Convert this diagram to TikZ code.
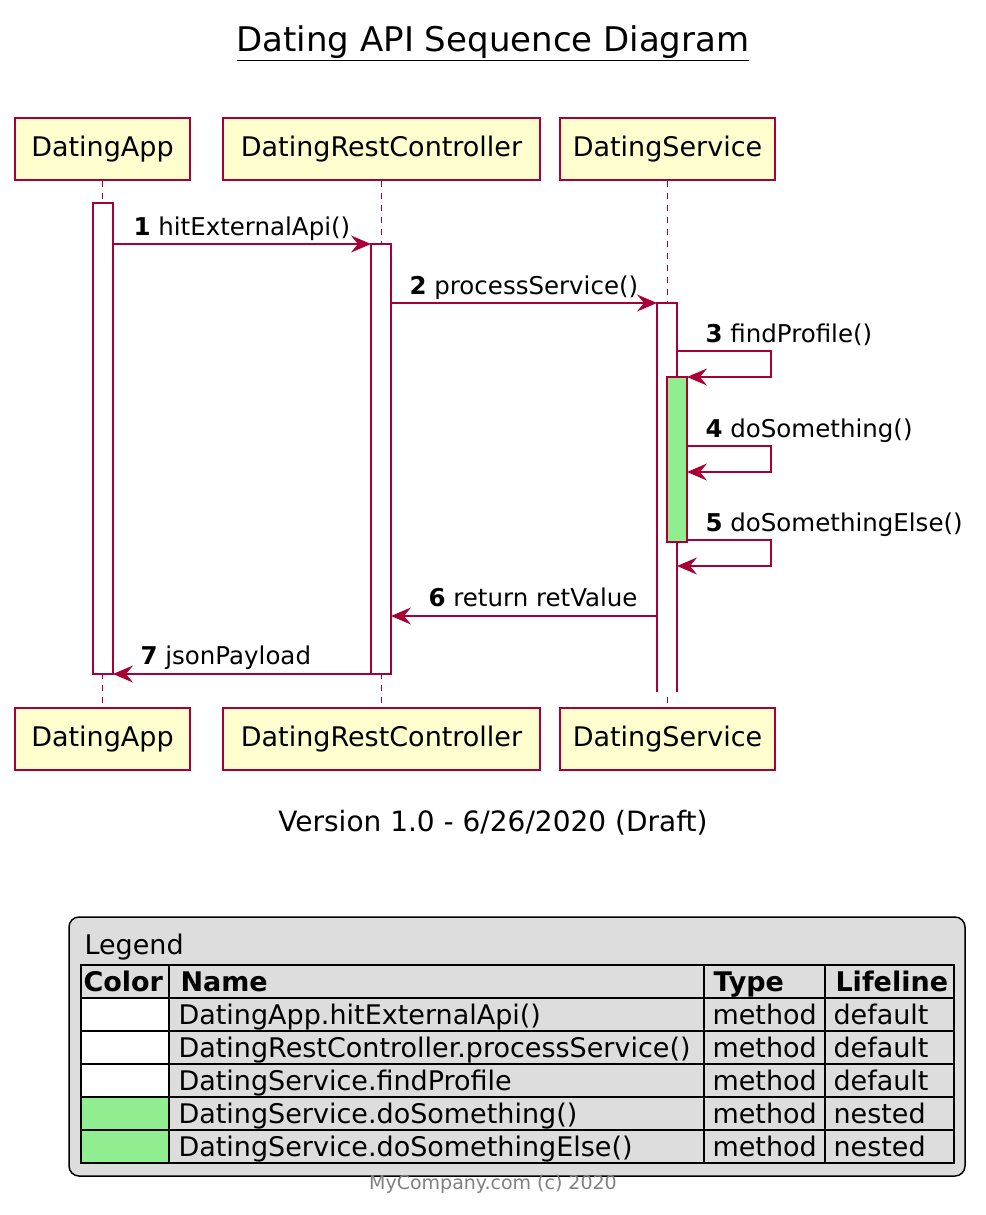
\documentclass[tikz,border=0pt]{standalone}
\usepackage{fontspec}
\setmainfont{DejaVu Sans}
\usetikzlibrary{arrows.meta}
\definecolor{bd}{HTML}{A80036}
\definecolor{pf}{HTML}{FEFECE}
\definecolor{lg}{HTML}{DDDDDD}
\definecolor{gr}{HTML}{90EE90}
\begin{document}
\begin{tikzpicture}[x=1pt,y=-1pt,
 part/.style={draw=bd,fill=pf,line width=1.5pt,minimum height=62pt,font=\fontsize{27}{30}\selectfont,inner xsep=0pt},
 life/.style={draw=bd,dash pattern=on 6pt off 6pt,line width=1.2pt},
 act/.style={draw=bd,fill=white,line width=1.2pt},
 msg/.style={draw=bd,line width=1.2pt,-{Stealth[length=20pt,width=17pt,inset=7pt]}},
 lbl/.style={font=\fontsize{24.5}{28}\selectfont,anchor=base west},
 cell/.style={font=\fontsize{27}{30}\selectfont,anchor=base west}]
\useasboundingbox (0,0) rectangle (985,1215);
\node[font=\fontsize{34}{40}\selectfont] (title) at (493,43) {\underline{Dating API Sequence Diagram}};
% participants
\foreach \n/\t/\a/\b in {A/DatingApp/15/190,R/DatingRestController/223/540,S/DatingService/560/775}{
 \node[part,minimum width={\b-\a}] (\n-top) at ({(\a+\b)/2},149) {\t};
 \node[part,minimum width={\b-\a}] (\n-bot) at ({(\a+\b)/2},739) {\t};
}
\draw[life] (A-top) -- (A-bot);
\draw[life] (R-top) -- (R-bot);
\draw[life] (S-top) -- (S-bot);
% activations
\draw[act] (93,203) rectangle (113,674);
\draw[act] (371,244) rectangle (391,674);
\fill[white] (657,303) rectangle (677,692);
\draw[bd,line width=1.2pt] (657,692) -- (657,303) -- (677,303) -- (677,692);
\draw[act,fill=gr] (667,377) rectangle (687,542);
% messages
\coordinate (m1a) at (113,244); \coordinate (m1b) at (371,244);
\draw[msg] (m1a) -- (m1b);
\node[lbl] (l1) at (130,235) {\textbf{1} hitExternalApi()};
\coordinate (m2a) at (391,303); \coordinate (m2b) at (657,303);
\draw[msg] (m2a) -- (m2b);
\node[lbl] (l2) at (406,294) {\textbf{2} processService()};
\coordinate (m3a) at (677,351); \coordinate (m3b) at (687,377);
\draw[msg] (m3a) -- (771,351) -- (771,377) -- (m3b);
\node[lbl] (l3) at (702,342) {\textbf{3} findProfile()};
\coordinate (m4a) at (687,446); \coordinate (m4b) at (687,472);
\draw[msg] (m4a) -- (771,446) -- (771,472) -- (m4b);
\node[lbl] (l4) at (702,437) {\textbf{4} doSomething()};
\coordinate (m5a) at (687,540); \coordinate (m5b) at (677,566);
\draw[msg] (m5a) -- (771,540) -- (771,566) -- (m5b);
\node[lbl] (l5) at (702,531) {\textbf{5} doSomethingElse()};
\coordinate (m6a) at (657,616); \coordinate (m6b) at (391,616);
\draw[msg] (m6a) -- (m6b);
\node[lbl] (l6) at (425,606) {\textbf{6} return retValue};
\coordinate (m7a) at (371,674); \coordinate (m7b) at (113,674);
\draw[msg] (m7a) -- (m7b);
\node[lbl] (l7) at (137,664) {\textbf{7} jsonPayload};
\node[font=\fontsize{28}{32}\selectfont] (ver) at (493,823) {Version 1.0 - 6/26/2020 (Draft)};
% legend
\draw[black,fill=lg,line width=1.5pt,rounded corners=10pt] (69,917) rectangle (965,1176);
\node[cell] (lgd) at (81,954) {Legend};
\fill[gr] (81,1097) rectangle (169,1163);
\fill[white] (81,998) rectangle (169,1097);
\draw[line width=1.5pt] (81,965) rectangle (954,1163);
\foreach \y in {998,1031,1064,1097,1130} \draw[line width=1.2pt] (81,\y) -- (954,\y);
\foreach \x in {169,704,825} \draw[line width=1.2pt] (\x,965) -- (\x,1163);
\node[cell] (h1) at (80,991) {\textbf{Color}};
\node[cell] (h2) at (177,991) {\textbf{Name}};
\node[cell] (h3) at (710,991) {\textbf{Type}};
\node[cell] (h4) at (832,991) {\textbf{Lifeline}};
\foreach \n/\t/\l [count=\i] in {DatingApp.hitExternalApi()/method/default,DatingRestController.processService()/method/default,DatingService.findProfile/method/default,DatingService.doSomething()/method/nested,DatingService.doSomethingElse()/method/nested}{
 \node[cell] (n\i) at (175,{991+33*\i}) {\n};
 \node[cell] (t\i) at (709,{991+33*\i}) {\t};
 \node[cell] (f\i) at (830,{991+33*\i}) {\l};
}
\node[font=\fontsize{19}{22}\selectfont,text=gray] (foot) at (493,1184) {MyCompany.com (c) 2020};
\end{tikzpicture}
\end{document}
